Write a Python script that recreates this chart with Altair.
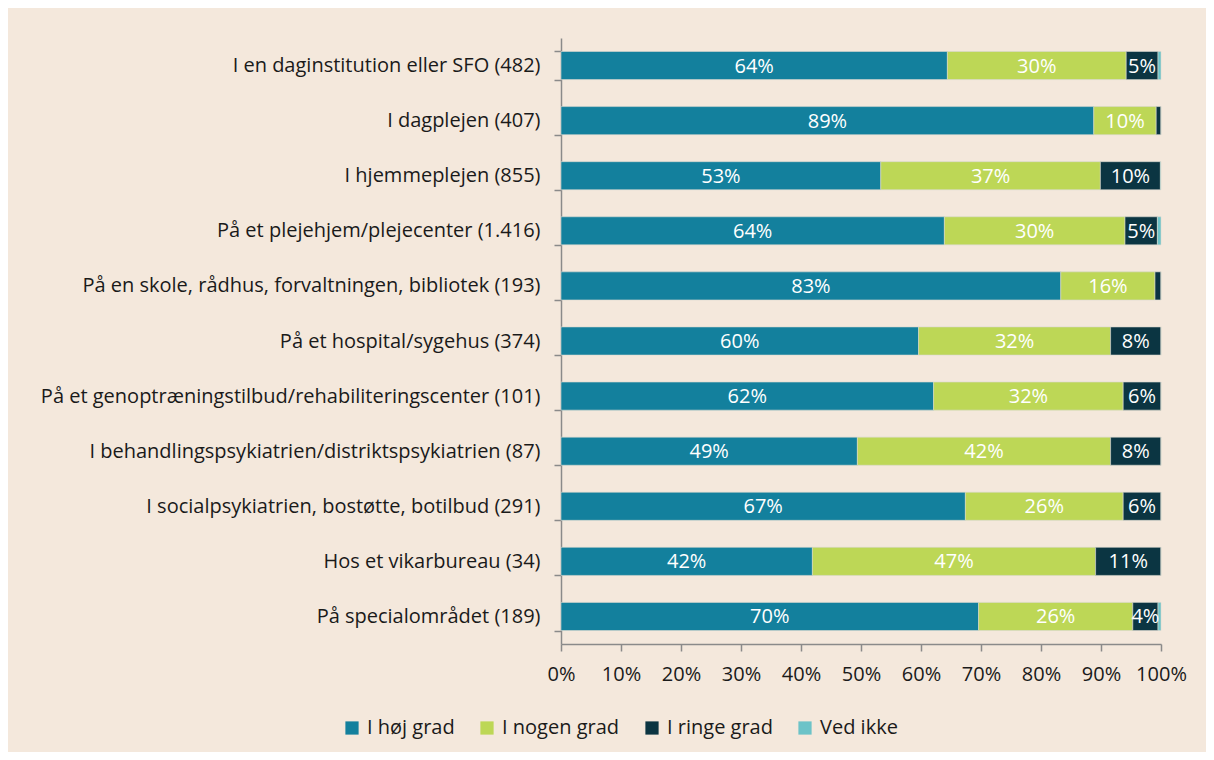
import altair as alt
import pandas as pd

categories = [
    "I en daginstitution eller SFO (482)",
    "I dagplejen (407)",
    "I hjemmeplejen (855)",
    "På et plejehjem/plejecenter (1.416)",
    "På en skole, rådhus, forvaltningen, bibliotek (193)",
    "På et hospital/sygehus (374)",
    "På et genoptræningstilbud/rehabiliteringscenter (101)",
    "I behandlingspsykiatrien/distriktspsykiatrien (87)",
    "I socialpsykiatrien, bostøtte, botilbud (291)",
    "Hos et vikarbureau (34)",
    "På specialområdet (189)",
]
series = ["I høj grad", "I nogen grad", "I ringe grad", "Ved ikke"]
hoej = [64.4, 88.8, 53.3, 63.9, 83.3, 59.6, 62.1, 49.4, 67.4, 41.9, 69.6]
nogen = [29.8, 10.4, 36.6, 30.1, 15.7, 32.0, 31.6, 42.2, 26.3, 47.2, 25.7]
ringe = [5.3, 0.8, 10.0, 5.4, 1.0, 8.4, 6.3, 8.4, 6.3, 10.9, 4.2]
vedikke = [0.5, 0.0, 0.1, 0.6, 0.0, 0.0, 0.0, 0.0, 0.0, 0.0, 0.5]
colors = ["#13809d", "#bdd756", "#0b3542", "#6cc3c8"]

rows = []
for i, cat in enumerate(categories):
    start = 0.0
    for s, vals in zip(series, [hoej, nogen, ringe, vedikke]):
        v = vals[i]
        rows.append({
            "cat": cat, "serie": s, "value": v / 100,
            "start": start / 100, "end": (start + v) / 100,
            "mid": (start + v / 2) / 100,
        })
        start += v
df = pd.DataFrame(rows)

FONT = "Open Sans"
FS = 20

base = alt.Chart(df)

y = alt.Y("cat:N", sort=categories, title=None,
          scale=alt.Scale(paddingInner=0.49, paddingOuter=0.245),
          axis=alt.Axis(tickBand="extent", labelFontSize=FS, labelColor="#1a1a1a",
                        labelFont=FONT, domainColor="#8a8a8a", tickColor="#8a8a8a",
                        domainWidth=1.5, tickWidth=1.5, tickSize=7, labelPadding=14,
                        labelLimit=600, grid=False))

bars = base.mark_bar(stroke="#d8d8d0", strokeWidth=0.6).encode(
    x=alt.X("start:Q", scale=alt.Scale(domain=[0, 1]), title=None,
            axis=alt.Axis(format=".0%", values=[i / 10 for i in range(11)],
                          labelFontSize=FS, labelColor="#1a1a1a", labelFont=FONT,
                          domainColor="#8a8a8a", tickColor="#8a8a8a", domainWidth=1.5,
                          tickWidth=1.5, tickSize=7, labelPadding=13, grid=False,
                          labelFlush=False)),
    x2="end:Q",
    y=y,
    color=alt.Color("serie:N", sort=series,
                    scale=alt.Scale(domain=series, range=colors),
                    legend=alt.Legend(title=None, orient="none", direction="horizontal",
                                      legendX=-219, legendY=680, labelFontSize=FS,
                                      labelFont=FONT, labelColor="#1a1a1a",
                                      symbolType="square", symbolSize=175,
                                      symbolStrokeWidth=0, columnPadding=22,
                                      labelOffset=5)),
)

text = base.mark_text(color="white", fontSize=FS, font=FONT, dy=1).encode(
    x="mid:Q",
    y=alt.Y("cat:N", sort=categories),
    text=alt.Text("value:Q", format=".0%"),
).transform_filter("datum.value >= 0.03")

chart = (bars + text).properties(
    width=600, height=606,
    background="#f4e8dc",
    padding={"left": 553, "top": 30, "right": 45, "bottom": 108},
    autosize=alt.AutoSizeParams(type="none"),
).configure_view(stroke=None)

chart.save("out.html", embed_options={"renderer": "svg", "actions": False})
